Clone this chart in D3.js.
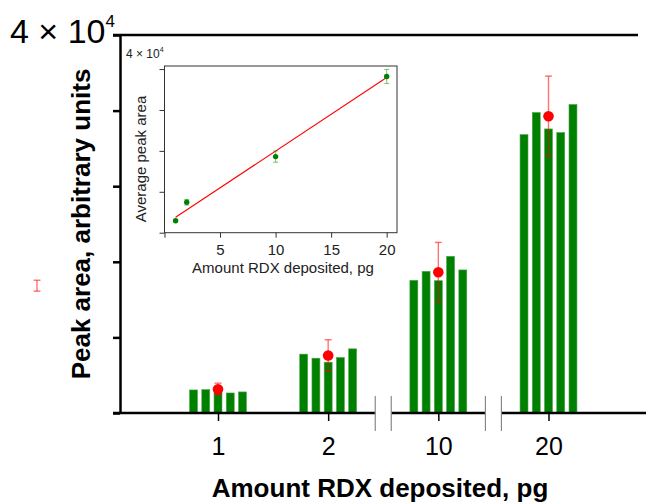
<!DOCTYPE html>
<html>
<head>
<meta charset="utf-8">
<script src="https://cdn.jsdelivr.net/npm/d3@7"></script>
<style>
body { margin: 0; background: #fff; }
svg { display: block; font-family: "Liberation Sans", Arial, sans-serif; }
</style>
</head>
<body>
<svg width="646" height="503"></svg>
<script>
// main chart: five replicate peak areas per amount, plus mean and error
var categories = ["1", "2", "10", "20"];
var replicates1 = [2440, 2470, 2540, 2120, 2230];
var replicates2 = [6230, 5800, 5380, 5870, 6790];
var replicates10 = [14040, 14990, 14000, 16580, 15140];
var replicates20 = [29460, 31800, 30060, 29680, 32650];
var means = [2520, 6080, 14890, 31410];
var errors = [640, 1670, 3160, 4240];
var yTicks = [0, 8000, 16000, 24000, 32000, 40000];
// lone error bar left of the axis (category index position)
var strayPos = [-1.643];
var strayValue = [13470];
var strayErr = [580];

// inset: average peak area vs amount
var insetAmounts = [1, 2, 10, 20];
var insetMeans = [2350, 5950, 14880, 30550];
var insetErrors = [200, 550, 1100, 1370];
var fitAmounts = [1, 20];
var fitValues = [3020, 30360];
var insetXTicks = [0, 5, 10, 15, 20];
var insetYTicks = [0, 8000, 16000, 24000, 32000];

var replicates = [replicates1, replicates2, replicates10, replicates20];
var svg = d3.select("svg");

var xi = d3.scaleLinear().domain([0, 3]).range([218, 548.5]);
var ys = d3.scaleLinear().domain([0, 40000]).range([413, 35]);
var inner = d3.scaleBand().domain(d3.range(5)).range([-30.6, 30.6])
    .paddingInner(0.35).paddingOuter(0.175);

// bars
var groups = svg.append("g").selectAll("g")
    .data(replicates).enter().append("g")
    .attr("transform", function(d, i) { return "translate(" + xi(i) + ",0)"; });
groups.selectAll("rect")
    .data(function(d) { return d; }).enter().append("rect")
    .attr("x", function(d, j) { return inner(j); })
    .attr("width", inner.bandwidth())
    .attr("y", function(d) { return ys(d); })
    .attr("height", function(d) { return ys(0) - ys(d); })
    .attr("fill", "#008000")
    .attr("stroke", "#4ca64c").attr("stroke-width", 0.6);

// error bars (red, semi transparent)
function errorBars(g, xs, vals, errs, scaleX, scaleY, color, op, cap, sw) {
    var eb = g.append("g").attr("stroke", color).attr("stroke-opacity", op)
        .attr("stroke-width", sw);
    vals.forEach(function(v, i) {
        var x = scaleX(xs[i]);
        var y1 = scaleY(v + errs[i]), y0 = scaleY(v - errs[i]);
        eb.append("line").attr("x1", x).attr("x2", x).attr("y1", y1).attr("y2", y0);
        eb.append("line").attr("x1", x - cap).attr("x2", x + cap).attr("y1", y1).attr("y2", y1);
        eb.append("line").attr("x1", x - cap).attr("x2", x + cap).attr("y1", y0).attr("y2", y0);
    });
}
errorBars(svg, d3.range(4), means, errors, xi, ys, "red", 0.55, 3.5, 1.4);
errorBars(svg, strayPos, strayValue, strayErr, xi, ys, "red", 0.55, 3.5, 1.4);

svg.append("g").selectAll("circle")
    .data(means).enter().append("circle")
    .attr("cx", function(d, i) { return xi(i); })
    .attr("cy", function(d) { return ys(d); })
    .attr("r", 5.3)
    .attr("fill", "red");

// left axis
var yAxis = d3.axisLeft(ys).tickValues(yTicks).tickSize(7).tickSizeOuter(0).tickFormat("");
var ya = svg.append("g").attr("transform", "translate(120,0)").call(yAxis);
ya.selectAll("path, line").attr("stroke", "#000").attr("stroke-width", 2.5);

// top line
svg.append("line")
    .attr("x1", 113).attr("x2", 638)
    .attr("y1", ys(40000)).attr("y2", ys(40000))
    .attr("stroke", "#000").attr("stroke-width", 2.5);

// bottom axis with breaks
var breakHalf = 8;
var segs = [[113, xi(1.5) - breakHalf], [xi(1.5) + breakHalf, xi(2.5) - breakHalf], [xi(2.5) + breakHalf, 646]];
svg.append("g").selectAll("line").data(segs).enter().append("line")
    .attr("x1", function(d) { return d[0]; }).attr("x2", function(d) { return d[1]; })
    .attr("y1", ys(0)).attr("y2", ys(0))
    .attr("stroke", "#000").attr("stroke-width", 2.5);
svg.append("g").selectAll("line").data([1.5, 2.5]).enter().append("g")
    .each(function(b) {
        var g = d3.select(this);
        [-breakHalf, breakHalf].forEach(function(o) {
            g.append("line").attr("x1", xi(b) + o).attr("x2", xi(b) + o)
                .attr("y1", 396).attr("y2", 431)
                .attr("stroke", "#888").attr("stroke-width", 1.2);
        });
    });

var xs = d3.scalePoint().domain(categories).range([xi(0), xi(3)]);
var xAxis = d3.axisBottom(xs).tickSize(8).tickPadding(16);
var xa = svg.append("g").attr("transform", "translate(0," + ys(0) + ")").call(xAxis);
xa.select(".domain").remove();
xa.selectAll("line").attr("stroke", "#000").attr("stroke-width", 1.5);
xa.selectAll("text").attr("font-size", 25).attr("fill", "#000")
    .attr("font-family", "Liberation Sans, Arial, sans-serif");

// axis titles
svg.append("text")
    .attr("x", 380).attr("y", 497)
    .attr("text-anchor", "middle")
    .style("font-weight", "bold").style("font-size", "26px")
    .text("Amount RDX deposited, pg");

svg.append("text")
    .attr("transform", "translate(90,224) rotate(-90)")
    .attr("text-anchor", "middle")
    .style("font-weight", "bold").style("font-size", "26px")
    .text("Peak area, arbitrary units");

// scale label top left
var big = svg.append("text").attr("x", 10).attr("y", 43).style("font-size", "34px");
big.append("tspan").text("4 \u00d7 10");
big.append("tspan").attr("dy", -16).style("font-size", "17px").text("4");

// ---- inset ----
var ix = d3.scaleLinear().domain([0, 20.93]).range([164.5, 397]);
var iy = d3.scaleLinear().domain([0, 32600]).range([232.7, 66]);

svg.append("rect")
    .attr("x", 164.5).attr("y", 66)
    .attr("width", 397 - 164.5).attr("height", 232.7 - 66)
    .attr("fill", "#fff").attr("stroke", "#333").attr("stroke-width", 1);

var ixAxis = d3.axisBottom(ix).tickValues(insetXTicks).tickSize(5).tickPadding(7)
    .tickSizeOuter(0).tickFormat(function(d) { return d === 0 ? "" : d; });
var ixa = svg.append("g").attr("transform", "translate(0,232.7)").call(ixAxis);
ixa.select(".domain").remove();
ixa.selectAll("line").attr("stroke", "#333");
ixa.selectAll("text").attr("font-size", 15).attr("fill", "#222")
    .attr("font-family", "Liberation Sans, Arial, sans-serif");

var iyAxis = d3.axisLeft(iy).tickValues(insetYTicks).tickSize(5).tickSizeOuter(0).tickFormat("");
var iya = svg.append("g").attr("transform", "translate(164.5,0)").call(iyAxis);
iya.select(".domain").remove();
iya.selectAll("line").attr("stroke", "#333");

svg.append("line")
    .attr("x1", ix(fitAmounts[0])).attr("y1", iy(fitValues[0]))
    .attr("x2", ix(fitAmounts[1])).attr("y2", iy(fitValues[1]))
    .attr("stroke", "red").attr("stroke-width", 1.1);

errorBars(svg, insetAmounts, insetMeans, insetErrors, ix, iy, "#008000", 0.45, 2.5, 1.1);

svg.append("g").selectAll("circle")
    .data(insetMeans).enter().append("circle")
    .attr("cx", function(d, i) { return ix(insetAmounts[i]); })
    .attr("cy", function(d) { return iy(d); })
    .attr("r", 2.7)
    .attr("fill", "#008000");

svg.append("text")
    .attr("x", 283).attr("y", 273)
    .attr("text-anchor", "middle").attr("fill", "#222")
    .style("font-size", "15px")
    .text("Amount RDX deposited, pg");

svg.append("text")
    .attr("transform", "translate(146,159) rotate(-90)")
    .attr("text-anchor", "middle").attr("fill", "#222")
    .style("font-size", "15px")
    .text("Average peak area");

var small = svg.append("text").attr("x", 126).attr("y", 58).attr("fill", "#222").style("font-size", "12px");
small.append("tspan").text("4 \u00d7 10");
small.append("tspan").attr("dy", -6).style("font-size", "7px").text("4");
</script>
</body>
</html>
